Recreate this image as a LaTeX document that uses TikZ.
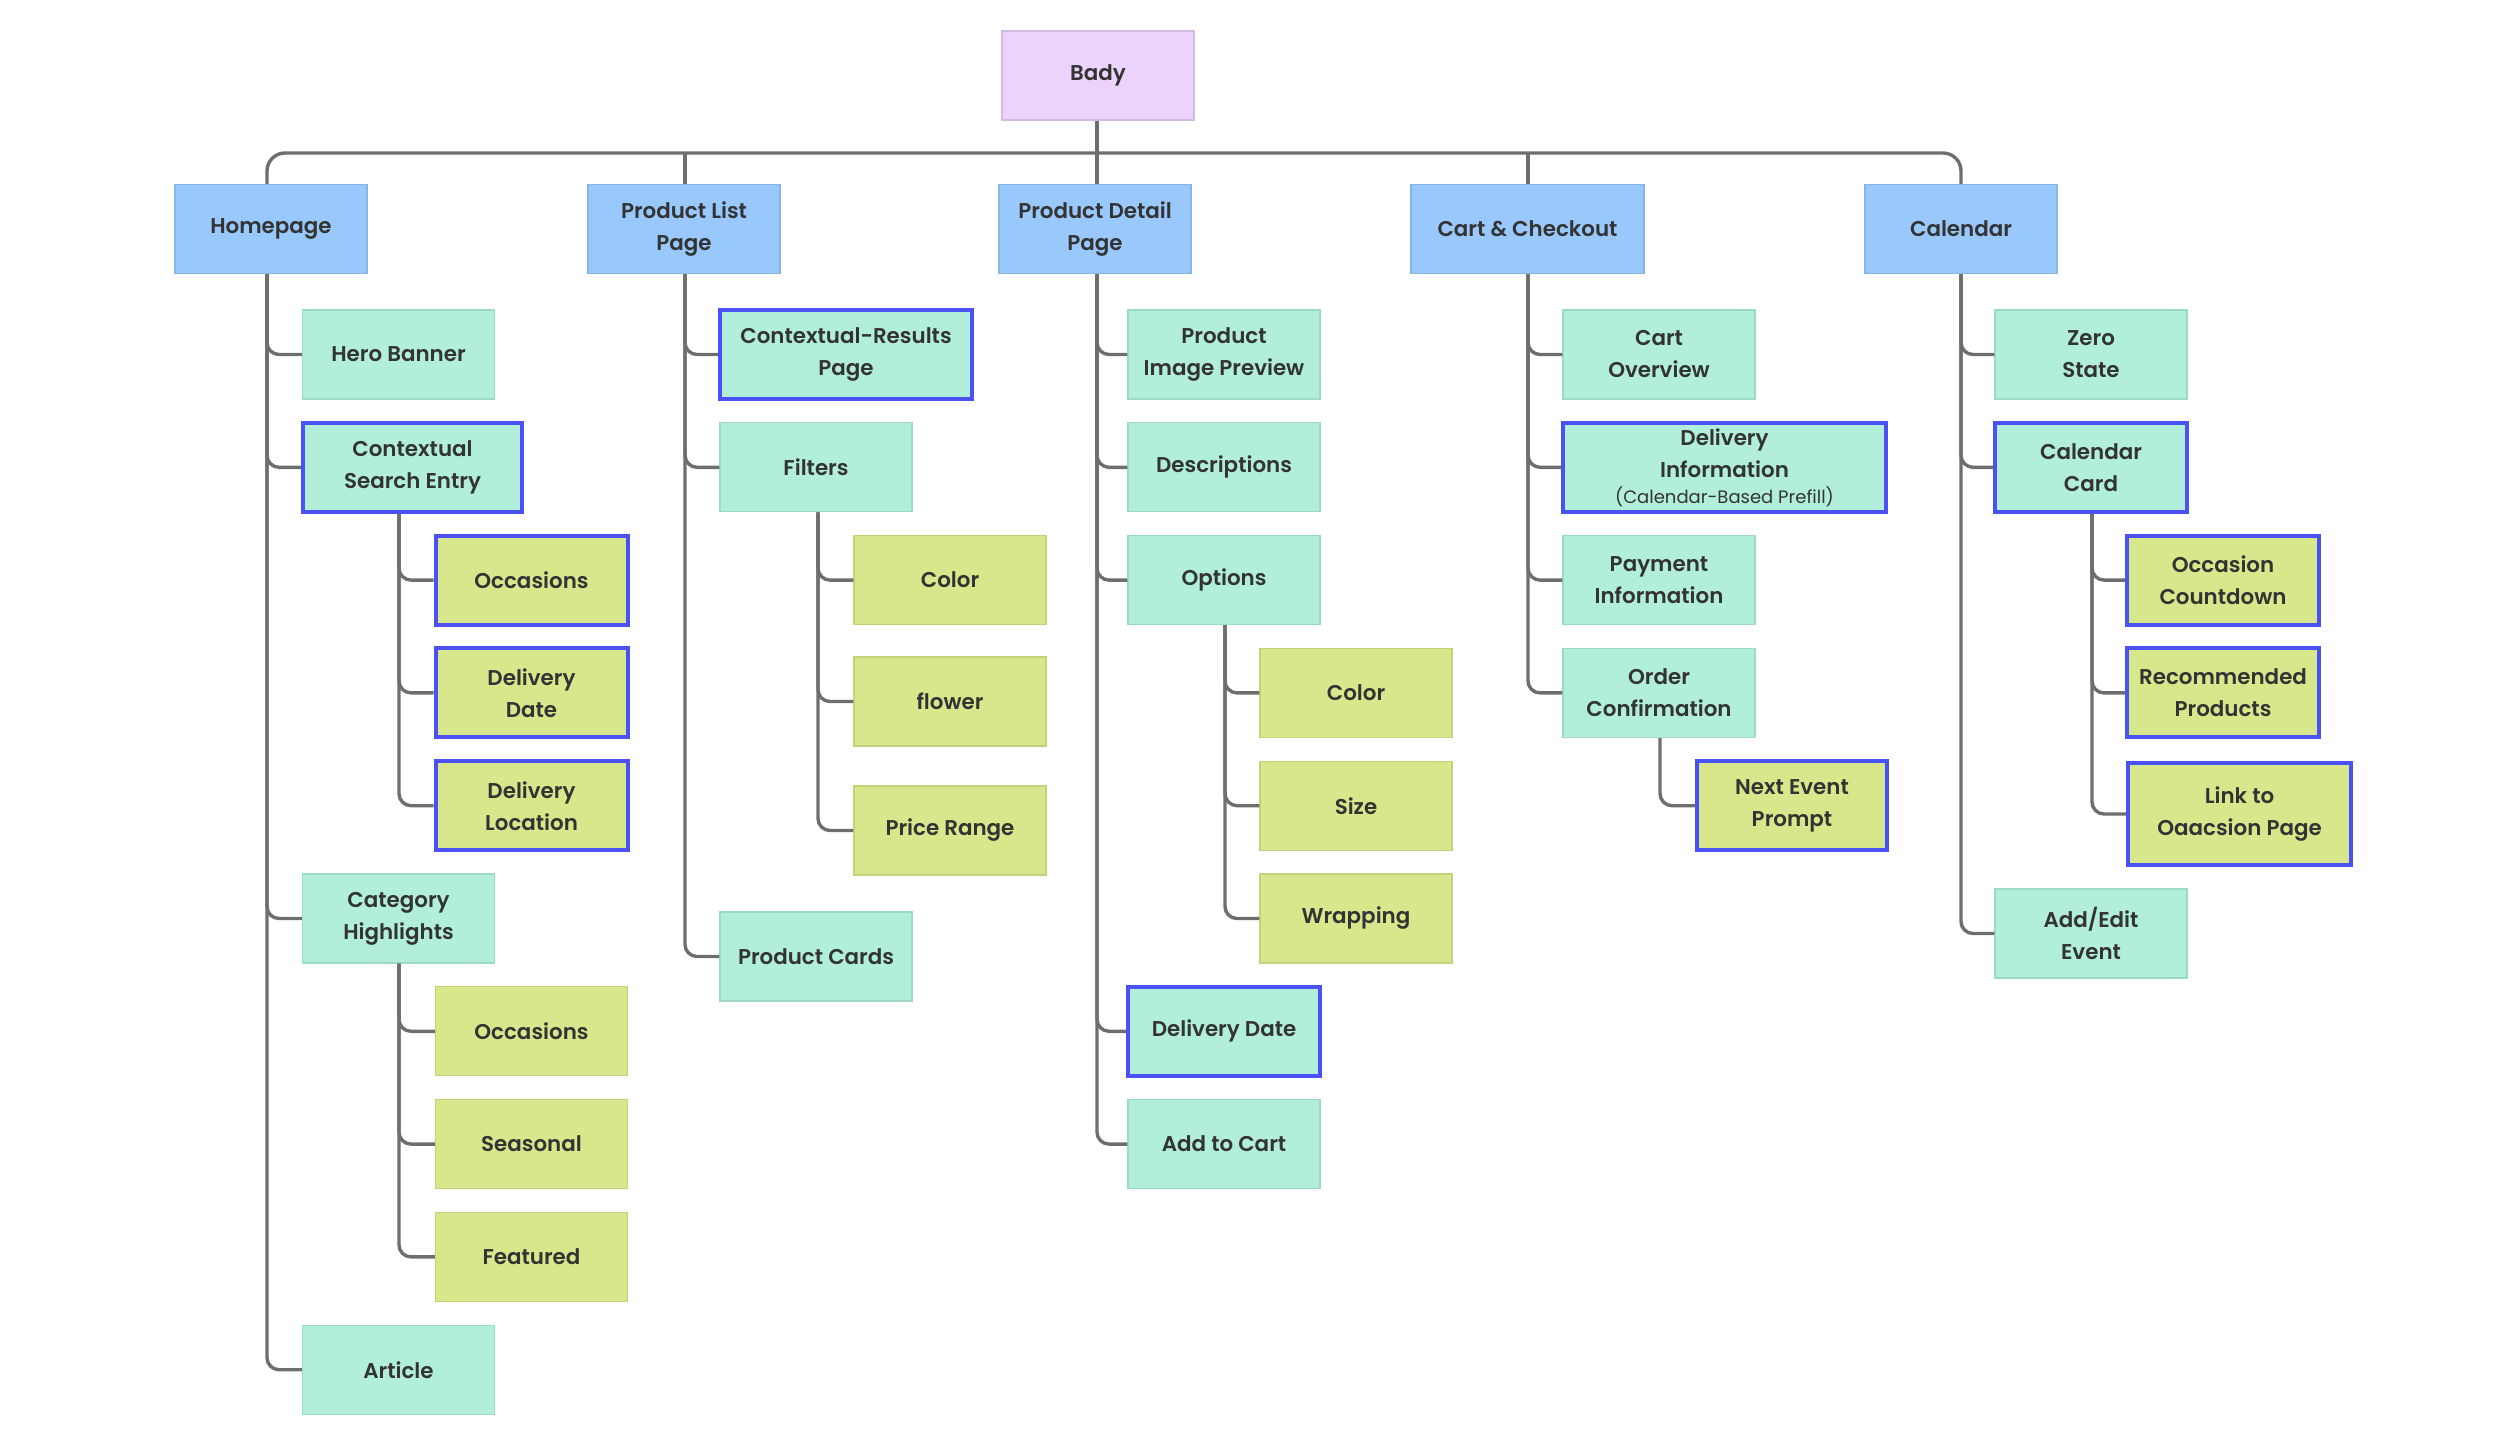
\documentclass[tikz,border=0pt]{standalone}
\usepackage{fontspec}
\setmainfont{Poppins}[UprightFont=* SemiBold, BoldFont=* Bold]
\newfontfamily\popreg{Poppins}
\definecolor{txt}{HTML}{333333}
\definecolor{linec}{HTML}{6E6E6E}
\definecolor{purf}{HTML}{ECD3FB}
\definecolor{purd}{HTML}{D2B9E2}
\definecolor{bluef}{HTML}{99C9FC}
\definecolor{blued}{HTML}{86B5E4}
\definecolor{mintf}{HTML}{B1EFDB}
\definecolor{mintd}{HTML}{9DD9C5}
\definecolor{limef}{HTML}{D8E78B}
\definecolor{limed}{HTML}{C3D27A}
\definecolor{hlb}{HTML}{4A52F6}
\newcommand\tconn[3]{\draw[conn] (#1.south -| #2) |- (#3.west);}
\begin{document}
\begin{tikzpicture}[x=0.5pt,y=-0.5pt,
  box/.style={rectangle, inner sep=0pt, minimum width=96pt, minimum height=44.5pt,
    align=center, font=\fontsize{10.7}{16}\selectfont, text=txt, line width=0.6pt},
  purb/.style={box, fill=purf, draw=purd},
  l1/.style={box, fill=bluef, draw=blued},
  mint/.style={box, fill=mintf, draw=mintd},
  lime/.style={box, fill=limef, draw=limed},
  hl/.style={draw=hlb, line width=2pt},
  conn/.style={draw=linec, line width=1.7pt, rounded corners=6pt},
  busline/.style={conn, rounded corners=9pt},
]
\useasboundingbox (0,0) rectangle (2500,1445);

% trunk coordinates
\coordinate (bus) at (0,153);
\coordinate (tHP) at (267,0);
\coordinate (tCSE) at (399,0);
\coordinate (tPLP) at (685,0);
\coordinate (tFIL) at (818,0);
\coordinate (tPDP) at (1097,0);
\coordinate (tOPT) at (1225,0);
\coordinate (tCC) at (1528,0);
\coordinate (tOC) at (1660,0);
\coordinate (tCAL) at (1961,0);
\coordinate (tCCD) at (2092,0);

% root and level 1
\node[purb] (bady) at (1098,75.5) {Bady};
\node[l1] (hp) at (271,229) {Homepage};
\node[l1] (plp) at (684,229) {Product List\\Page};
\node[l1] (pdp) at (1095,229) {Product Detail\\Page};
\node[l1, minimum width=116.5pt] (cc) at (1527.5,229) {Cart \& Checkout};
\node[l1] (cal) at (1961,229) {Calendar};

% Homepage
\node[mint] (hb) at (398.5,354.5) {Hero Banner};
\node[mint, hl, minimum width=109.5pt] (cse) at (412.5,467.3) {Contextual\\Search Entry};
\node[lime, hl] (occa) at (531.5,580.1) {Occasions};
\node[lime, hl] (dda) at (531.5,692.9) {Delivery\\Date};
\node[lime, hl] (dla) at (531.5,805.7) {Delivery\\Location};
\node[mint] (ch) at (398.5,918.5) {Category\\Highlights};
\node[lime] (occb) at (531.5,1031.3) {Occasions};
\node[lime] (seas) at (531.5,1144.1) {Seasonal};
\node[lime] (feat) at (531.5,1256.9) {Featured};
\node[mint] (art) at (398.5,1369.7) {Article};

% Product List Page
\node[mint, hl, minimum width=126pt] (crp) at (846,354.5) {Contextual-Results\\Page};
\node[mint] (fil) at (816,467.3) {Filters};
\node[lime] (pcol) at (950,580.1) {Color};
\node[lime] (pflow) at (950,701.5) {flower};
\node[lime] (pprice) at (950,830.5) {Price Range};
\node[mint] (pcards) at (816,956.5) {Product Cards};

% Product Detail Page
\node[mint] (pip) at (1224,354.5) {Product\\Image Preview};
\node[mint] (desc) at (1224,467.3) {Descriptions};
\node[mint] (opt) at (1224,580.1) {Options};
\node[lime] (ocol) at (1356,692.9) {Color};
\node[lime] (osize) at (1356,805.7) {Size};
\node[lime] (owrap) at (1356,918.5) {Wrapping};
\node[mint, hl] (pdd) at (1224,1031.3) {Delivery Date};
\node[mint] (atc) at (1224,1144.1) {Add to Cart};

% Cart & Checkout
\node[mint] (cov) at (1659,354.5) {Cart\\Overview};
\node[mint, hl, minimum width=161.5pt] (dinfo) at (1724.5,467.3)
  {Delivery\\Information\\[-3pt]{\popreg\fontsize{9}{11}\selectfont (Calendar-Based Prefill)}};
\node[mint] (pay) at (1659,580.1) {Payment\\Information};
\node[mint] (oc) at (1659,692.9) {Order\\Confirmation};
\node[lime, hl, minimum width=95pt] (nep) at (1792,805.7) {Next Event\\Prompt};

% Calendar
\node[mint] (zs) at (2091,354.5) {Zero\\State};
\node[mint, hl] (ccard) at (2091,467.3) {Calendar\\Card};
\node[lime, hl] (ocd) at (2223,580.1) {Occasion\\Countdown};
\node[lime, hl] (rec) at (2223,692.9) {Recommended\\Products};
\node[lime, hl, minimum width=111.5pt, minimum height=51pt] (lnk) at (2239.5,814) {Link to\\Oaacsion Page};
\node[mint] (aee) at (2091,933.5) {Add/Edit\\Event};

% bus
\draw[busline] (hp.north -| tHP) -- (tHP |- bus) -- (tCAL |- bus) -- (cal.north -| tCAL);
\draw[conn] (bady.south -| tPDP) -- (tPDP |- bus);
\draw[conn] (plp.north -| tPLP) -- (tPLP |- bus);
\draw[conn] (pdp.north -| tPDP) -- (tPDP |- bus);
\draw[conn] (cc.north -| tCC) -- (tCC |- bus);

% Homepage connectors
\tconn{hp}{tHP}{hb}
\tconn{hp}{tHP}{cse}
\tconn{hp}{tHP}{ch}
\tconn{hp}{tHP}{art}
\tconn{cse}{tCSE}{occa}
\tconn{cse}{tCSE}{dda}
\tconn{cse}{tCSE}{dla}
\tconn{ch}{tCSE}{occb}
\tconn{ch}{tCSE}{seas}
\tconn{ch}{tCSE}{feat}

% PLP connectors
\tconn{plp}{tPLP}{crp}
\tconn{plp}{tPLP}{fil}
\tconn{plp}{tPLP}{pcards}
\tconn{fil}{tFIL}{pcol}
\tconn{fil}{tFIL}{pflow}
\tconn{fil}{tFIL}{pprice}

% PDP connectors
\tconn{pdp}{tPDP}{pip}
\tconn{pdp}{tPDP}{desc}
\tconn{pdp}{tPDP}{opt}
\tconn{pdp}{tPDP}{pdd}
\tconn{pdp}{tPDP}{atc}
\tconn{opt}{tOPT}{ocol}
\tconn{opt}{tOPT}{osize}
\tconn{opt}{tOPT}{owrap}

% Cart connectors
\tconn{cc}{tCC}{cov}
\tconn{cc}{tCC}{dinfo}
\tconn{cc}{tCC}{pay}
\tconn{cc}{tCC}{oc}
\tconn{oc}{tOC}{nep}

% Calendar connectors
\tconn{cal}{tCAL}{zs}
\tconn{cal}{tCAL}{ccard}
\tconn{cal}{tCAL}{aee}
\tconn{ccard}{tCCD}{ocd}
\tconn{ccard}{tCCD}{rec}
\tconn{ccard}{tCCD}{lnk}
\end{tikzpicture}
\end{document}
